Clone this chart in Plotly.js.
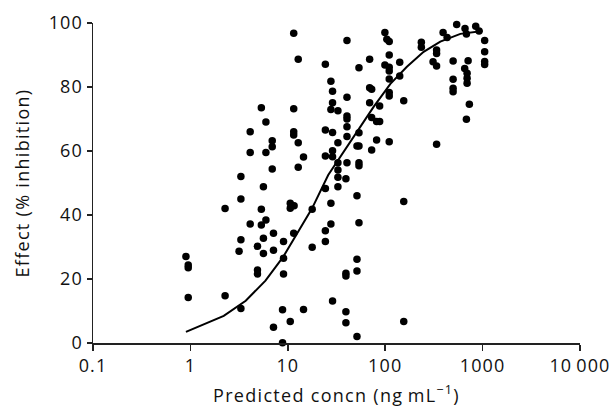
<!DOCTYPE html>
<html>
<head>
<meta charset="utf-8">
<script src="https://cdn.plot.ly/plotly-3.0.1.min.js"></script>
<style>
  html, body { margin: 0; padding: 0; background: #fff; }
  #chart { width: 614px; height: 407px; }
  #chart .xtick text, #chart .ytick text { letter-spacing: 1.1px; }
  #chart .g-xtitle text, #chart .g-ytitle text { letter-spacing: 1.3px; }
</style>
</head>
<body>
<div id="chart"></div>
<script>
// Observed data: predicted concentration (ng/mL) vs effect (% inhibition)
const concn = [
  0.90, 0.95, 0.95, 0.95, 2.27, 3.30, 3.30, 3.30, 3.16, 2.27, 3.30,
  11.5, 12.8, 24.3, 27.7, 28.8, 28.8, 27.7, 32.7, 5.35, 11.5, 5.96, 4.11, 11.5, 11.5,
  24.3, 28.8, 6.92, 6.92, 12.8, 32.7, 4.11, 5.96, 14.5, 24.3, 28.8, 28.8, 6.92, 12.8,
  32.7, 32.7,
  5.62, 5.35, 5.96, 4.11, 5.35, 7.13, 5.62, 4.88, 9.04, 5.62, 7.13, 10.6, 10.6, 11.6,
  11.5, 17.8, 17.8, 9.04, 4.88, 4.88, 9.04, 24.3, 32.7, 32.7, 27.7, 27.7, 24.3, 24.3,
  28.8, 8.83, 14.5, 10.6, 7.13, 8.83,
  542, 393, 432, 99.3, 104, 110, 40.5, 235, 235, 337, 337, 110, 69.2, 141, 310, 337,
  498, 53.8, 99.3, 110, 110, 141, 110, 498, 498, 498, 69.2, 72.6, 110, 110, 40.5, 155,
  69.2, 87.7, 40.5, 40.5, 72.6, 81.6, 87.7, 40.5, 53.8, 40.5, 81.6, 110, 337, 51.3,
  53.8, 72.6, 40.5, 53.8, 53.8,
  39.5, 51.3, 155, 53.8, 51.3, 51.3, 39.5, 39.5, 39.5, 39.5, 51.3, 155,
  660, 682, 710, 655, 693, 693, 693, 731, 682,
  850, 920, 1050, 1050, 1050, 1050
];
const effect = [
  27.0, 24.4, 23.5, 14.2, 42.0, 52.0, 45.0, 32.3, 28.7, 14.8, 10.8,
  96.8, 88.7, 87.1, 81.8, 78.7, 75.1, 73.0, 72.6, 73.5, 73.2, 69.1, 66.0, 66.0, 65.0,
  66.6, 65.8, 63.2, 61.3, 62.6, 62.6, 59.5, 59.5, 58.1, 58.4, 58.2, 60.1, 54.4, 54.9,
  56.3, 54.1,
  48.8, 41.8, 38.4, 37.2, 36.9, 34.3, 32.7, 30.2, 31.7, 28.0, 29.0, 43.7, 42.1, 42.9,
  34.3, 41.8, 29.9, 26.5, 22.8, 21.6, 21.6, 48.3, 51.8, 48.8, 43.7, 37.2, 35.1, 31.7,
  13.1, 10.4, 10.5, 6.7, 4.9, 0.1,
  99.5, 97.0, 95.5, 97.0, 94.9, 94.2, 94.5, 94.0, 92.4, 91.6, 90.5, 90.0, 88.7, 87.7, 87.9, 86.6,
  88.1, 86.0, 86.9, 86.2, 85.0, 83.4, 82.5, 82.4, 79.6, 78.5, 79.8, 79.3, 78.3, 77.2, 76.8, 75.7,
  75.1, 74.1, 70.9, 70.0, 70.5, 69.2, 69.2, 67.6, 65.7, 64.5, 63.4, 62.9, 62.1, 61.6,
  61.6, 60.3, 56.3, 56.3, 55.4,
  51.3, 46.0, 44.2, 37.6, 26.2, 22.5, 21.8, 20.9, 9.8, 6.3, 2.0, 6.7,
  98.3, 96.6, 88.2, 85.8, 84.3, 82.7, 81.2, 74.6, 69.9,
  99.0, 97.5, 94.5, 91.0, 88.0, 87.0
];

// Fitted concentration-effect curve
const fitConcn  = [0.9, 2.2, 3.7, 5.9, 9.0, 12.6, 17.7, 26, 35, 50, 76, 113, 167, 248, 368, 591, 1000];
const fitEffect = [3.5, 8.5, 13.2, 19.5, 27, 34.5, 42, 52.5, 58.5, 65.5, 73.8, 81, 86.3, 91, 94.2, 96.6, 97.5];

// Axis ticks
const xTickVals = [0.1, 1, 10, 100, 1000, 10000];
const xTickText = ['0.1', '1', '10', '100', '1000', '10\u2009000'];
const yTickVals = [0, 20, 40, 60, 80, 100];

const FONT = 'Open Sans, Noto Sans, sans-serif';
const INK = '#111';

const traces = [
  {
    type: 'scatter', mode: 'markers', x: concn, y: effect,
    marker: { color: '#000', size: 7.5 },
    cliponaxis: false, hoverinfo: 'x+y'
  },
  {
    type: 'scatter', mode: 'lines', x: fitConcn, y: fitEffect,
    line: { color: '#000', width: 2 },
    cliponaxis: false, hoverinfo: 'skip'
  }
];

const layout = {
  width: 614, height: 407,
  margin: { l: 93, r: 34, t: 23, b: 64 },
  paper_bgcolor: '#fff', plot_bgcolor: '#fff',
  showlegend: false,
  font: { family: FONT, size: 18, color: INK },
  xaxis: {
    type: 'log', range: [-1, 4],
    tickmode: 'array', tickvals: xTickVals, ticktext: xTickText,
    ticks: 'outside', ticklen: 6, tickwidth: 1.5, tickcolor: '#222',
    showline: true, linecolor: '#222', linewidth: 1.5,
    showgrid: false, zeroline: false,
    tickfont: { family: FONT, size: 18, color: INK },
    title: { text: 'Predicted concn (ng\u2009mL<sup>\u22121</sup>)', font: { family: FONT, size: 18, color: INK }, standoff: 21 }
  },
  yaxis: {
    range: [0, 100],
    tickmode: 'array', tickvals: yTickVals,
    ticks: 'outside', ticklen: 5, tickwidth: 1.5, tickcolor: '#222',
    showline: true, linecolor: '#222', linewidth: 1.5,
    showgrid: false, zeroline: false,
    tickfont: { family: FONT, size: 18, color: INK },
    title: { text: 'Effect (% inhibition)', font: { family: FONT, size: 18, color: INK }, standoff: 17 }
  }
};

Plotly.newPlot('chart', traces, layout, { displayModeBar: false, staticPlot: true });
</script>
</body>
</html>
